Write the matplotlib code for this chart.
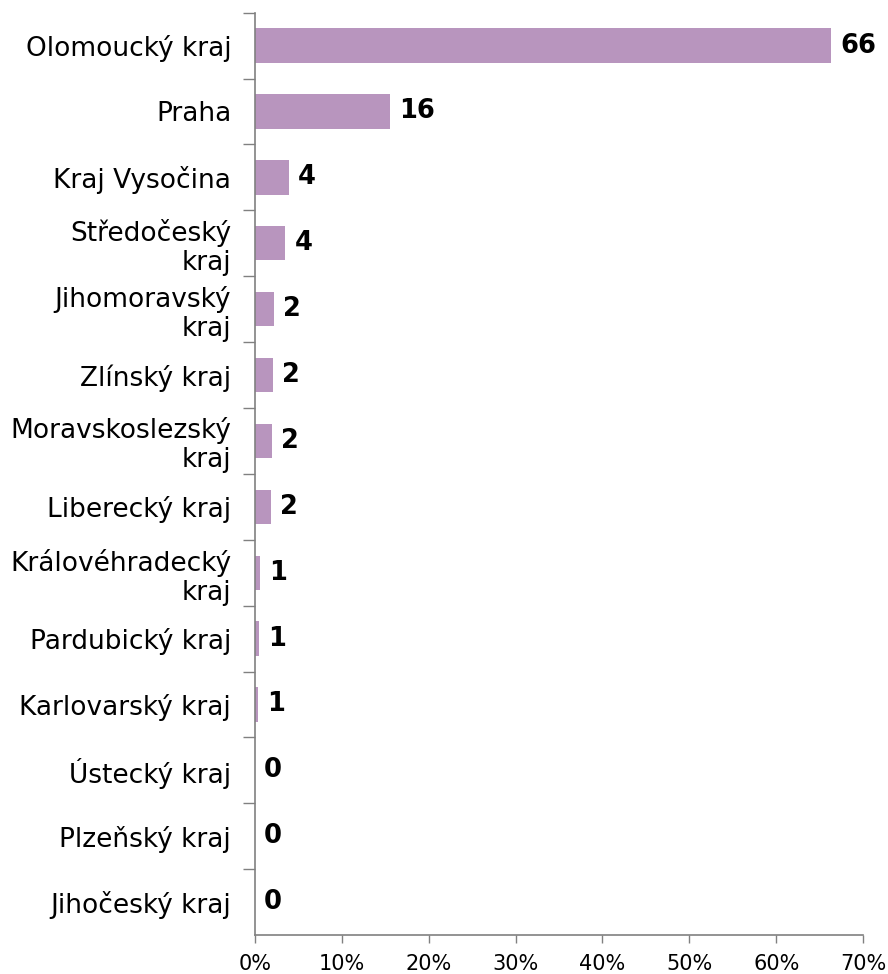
import matplotlib.pyplot as plt
from matplotlib.ticker import FixedLocator, PercentFormatter

kraje = ["Olomoucký kraj", "Praha", "Kraj Vysočina", "Středočeský\nkraj",
         "Jihomoravský\nkraj", "Zlínský kraj", "Moravskoslezský\nkraj",
         "Liberecký kraj", "Královéhradecký\nkraj", "Pardubický kraj",
         "Karlovarský kraj", "Ústecký kraj", "Plzeňský kraj", "Jihočeský kraj"]
podil = [66.3, 15.5, 3.9, 3.5, 2.2, 2.1, 2.0, 1.85, 0.6, 0.5, 0.4, 0, 0, 0]
popisky = ["66", "16", "4", "4", "2", "2", "2", "2", "1", "1", "1", "0", "0", "0"]

plt.rcParams['font.family'] = ['DejaVu Sans']

fig = plt.figure(figsize=(8.88, 9.74), dpi=100)
ax = fig.add_axes([0.287, 0.040, 0.685, 0.947])

y = list(range(len(kraje)))
ax.barh(y, podil, height=0.52, color='#B895BE')

for yi, v, lab in zip(y, podil, popisky):
    ax.text(v + 1.05, yi, lab, va='center', ha='left', fontsize=18.5, fontweight='heavy')

ax.set_ylim(len(kraje) - 0.5, -0.5)
ax.set_xlim(0, 70)
ax.set_yticks(y)
ax.set_yticklabels(kraje, fontsize=19, linespacing=1.15)
ax.yaxis.set_minor_locator(FixedLocator([i - 0.5 for i in range(len(kraje))]))
ax.tick_params(axis='y', which='major', length=0, pad=17)
ax.tick_params(axis='y', which='minor', length=9, width=1, color='#808080', direction='out')
ax.set_xticks(range(0, 71, 10))
ax.xaxis.set_major_formatter(PercentFormatter(decimals=0))
ax.tick_params(axis='x', length=6, width=1, color='#808080', labelsize=15, pad=8)

for s in ['top', 'right']:
    ax.spines[s].set_visible(False)
for s in ['left', 'bottom']:
    ax.spines[s].set_color('#808080')
    ax.spines[s].set_linewidth(1.2)

fig.savefig('out.png', dpi=100)
